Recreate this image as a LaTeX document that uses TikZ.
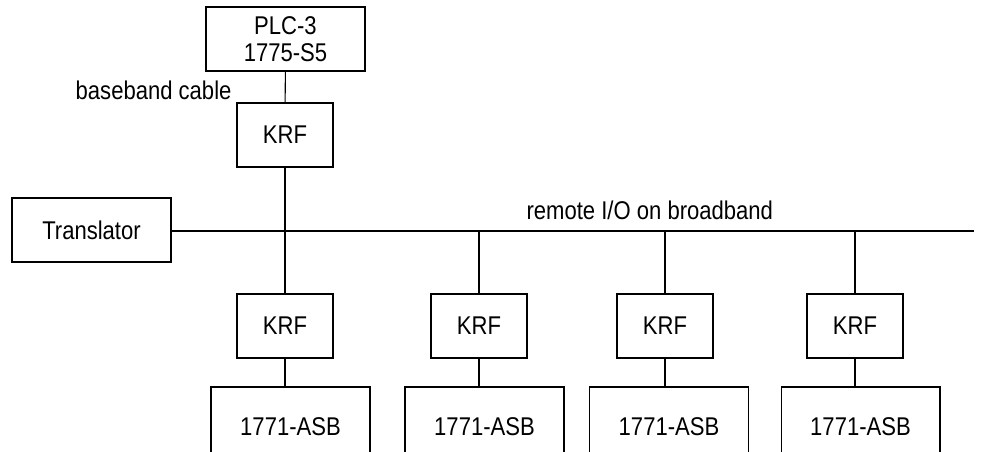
\documentclass[tikz,border=0pt]{standalone}
\usepackage{fontspec}
\setmainfont{Liberation Sans}[FakeStretch=0.86]
\tikzset{
	box/.style={draw,rectangle,inner sep=0pt,minimum height=1.28cm},
	krf/.style={box,minimum width=1.92cm},
	wide/.style={box,minimum width=3.18cm},
	asb/.style={box,minimum width=3.18cm,minimum height=1.6cm},
	tag/.style={inner sep=0pt}
}

\begin{document}
\begin{tikzpicture}[x=0.02cm,y=-0.02cm,line width=0.6pt,font=\fontsize{14.6}{15.5}\selectfont]
	\useasboundingbox (0,0) rectangle (983,451);
	\clip (0,0) rectangle (983,451);
	
	% Controller
	\node[wide,align=center] (plc) at (285.5,39) {PLC-3\\1775-S5};
	\node[krf] (krf0) at (285,135) {KRF};
	\node[tag,anchor=base east] (bb) at (232,99) {baseband cable};
	\draw (plc) -- (krf0);
	
	% Broadband
	\node[wide] (tr) at (91.5,230) {Translator};
	\coordinate (busend) at (974,231);
	\node[tag,anchor=base west] (rio) at (526,219) {remote I/O on broadband};
	\draw (tr.east |- busend) -- (busend);
	
	\foreach \i/\x/\y in {1/285/290.5, 2/479/484.5, 3/665/669, 4/855/860.5}
	{
		\node[krf] (krf\i) at (\x,326) {KRF};
		\node[asb] (asb\i) at (\y,427) {1771-ASB};
		\draw (krf\i.south) -- (krf\i.south |- asb\i.north);
	}
	
	\draw (krf0) -- (krf1);
	\foreach \i in {2,3,4}
		\draw (krf\i.north |- busend) -- (krf\i);
\end{tikzpicture}
\end{document}
